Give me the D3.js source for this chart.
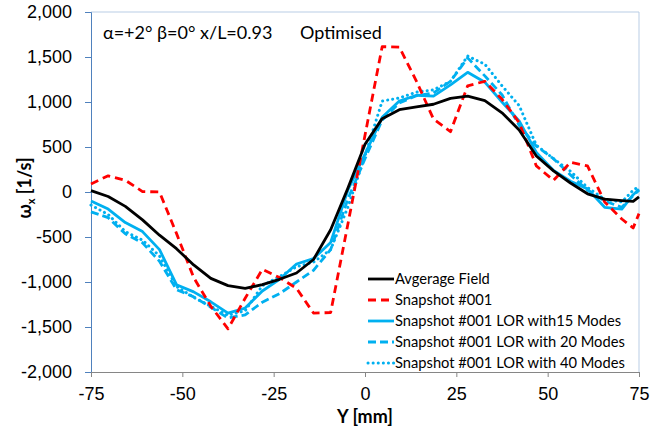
<!DOCTYPE html>
<html>
<head>
    <meta charset="UTF-8">
    <title>Vorticity profile</title>
    <script src="https://cdn.jsdelivr.net/npm/d3@7"></script>
    <style>
        body { margin: 0; background: #fff; }
        svg { font-family: Lato, "Open Sans", sans-serif; }
        .tick text { fill: #000; }
    </style>
</head>
<body>
<svg width="651" height="432"></svg>
<script>

    // spanwise positions Y [mm]
    var yPos = [-75, -70.3, -65.6, -60.9, -56.25, -51.6, -46.9, -42.2, -37.5, -32.8, -28.1,
        -23.4, -18.75, -14.1, -9.4, -4.7, 0, 4.7, 9.4, 14.1, 18.75, 23.4, 28.1, 32.8,
        37.5, 42.2, 46.9, 51.6, 56.25, 60.9, 65.6, 70.3, 73.4, 75];

    var avgField = [15, -50, -160, -310, -480, -630, -810, -960, -1040, -1070, -1030,
        -970, -900, -750, -420, 40, 530, 815, 915, 945, 975, 1040, 1065, 1015,
        880, 690, 400, 235, 100, -20, -80, -95, -105, -55];

    var snap001 = [90, 180, 130, 5, 0, -460, -950, -1270, -1520, -1180, -860,
        -950, -1070, -1345, -1340, -360, 630, 1615, 1610, 1230, 810, 670, 1180, 1230,
        1030, 770, 290, 130, 330, 290, -110, -300, -400, -240];

    var lor15 = [-100, -190, -340, -440, -640, -1030, -1110, -1220, -1345, -1290, -1100,
        -970, -800, -740, -560, 20, 420, 830, 1010, 1075, 1065, 1190, 1330, 1220,
        1000, 790, 440, 240, 120, 35, -170, -190, -30, 30];

    var lor20 = [-220, -285, -465, -565, -770, -1085, -1165, -1280, -1400, -1365, -1225,
        -1130, -1000, -870, -640, -80, 370, 800, 990, 1070, 1100, 1230, 1490, 1290,
        1080, 740, 510, 370, 190, 20, -100, -170, -40, 20];

    var lor40 = [-145, -250, -440, -535, -710, -1050, -1170, -1270, -1370, -1320, -1040,
        -940, -830, -780, -640, -170, 400, 1010, 1045, 1110, 1135, 1230, 1510, 1420,
        1180, 960, 520, 370, 230, 50, -80, -110, 20, 60];

    var seriesNames = ["Avgerage Field", "Snapshot #001", "Snapshot #001 LOR with15 Modes",
        "Snapshot #001 LOR with 20 Modes", "Snapshot #001 LOR with 40 Modes"];

    var xTicks = [-75, -50, -25, 0, 25, 50, 75];
    var yTicks = [-2000, -1500, -1000, -500, 0, 500, 1000, 1500, 2000];

    var svg = d3.select("svg");

    var plotLeft = 91, plotRight = 639, plotTop = 12, plotBottom = 372;

    var x = d3.scaleLinear().domain([-75, 75]).range([plotLeft, plotRight]);
    var y = d3.scaleLinear().domain([-2000, 2000]).range([plotBottom, plotTop]);

    // plot area border (top / right)
    svg.append("path")
        .attr("d", "M" + plotLeft + "," + plotTop + "H" + plotRight + "V" + plotBottom)
        .attr("fill", "none")
        .attr("stroke", "#b9cde5")
        .attr("stroke-width", 1);

    // excel style: plain hyphen, thousands comma
    var fmt = function(d) { return d3.format(",")(d).replace("\u2212", "-"); };

    var yAxis = svg.append("g")
        .attr("transform", "translate(" + plotLeft + ",0)")
        .call(d3.axisLeft(y).tickValues(yTicks).tickFormat(fmt).tickSize(6).tickPadding(13));
    yAxis.select(".domain").attr("stroke", "#4f81bd");
    yAxis.selectAll(".tick line").attr("stroke", "#4f81bd");
    yAxis.selectAll("text").attr("font-size", "18px");

    var xAxis = svg.append("g")
        .attr("transform", "translate(0," + plotBottom + ")")
        .call(d3.axisBottom(x).tickValues(xTicks).tickFormat(fmt).tickSize(5).tickPadding(10));
    xAxis.select(".domain").attr("stroke", "#868686");
    xAxis.selectAll(".tick line").attr("stroke", "#868686");
    xAxis.selectAll("text").attr("font-size", "18px");

    var styles = [
        { color: "#000000", dash: null, width: 2.8, cap: "butt" },
        { color: "#ff0000", dash: "8,5", width: 2.8, cap: "butt" },
        { color: "#00b0f0", dash: null, width: 2.8, cap: "butt" },
        { color: "#00b0f0", dash: "8,4", width: 2.8, cap: "butt" },
        { color: "#00b0f0", dash: "0.1,5", width: 3, cap: "round" }
    ];

    var allSeries = [avgField, snap001, lor15, lor20, lor40];

    var line = d3.line()
        .x(function(d, i) { return x(yPos[i]); })
        .y(function(d) { return y(d); });

    // draw back to front like the original
    [4, 3, 2, 1, 0].forEach(function(k) {
        svg.append("path")
            .datum(allSeries[k])
            .attr("d", line)
            .attr("fill", "none")
            .attr("stroke", styles[k].color)
            .attr("stroke-width", styles[k].width)
            .attr("stroke-dasharray", styles[k].dash)
            .attr("stroke-linecap", styles[k].cap)
            .attr("stroke-linejoin", "round");
    });

    // annotations
    svg.append("text")
        .attr("x", 103).attr("y", 39)
        .attr("font-size", "18px")
        .text("α=+2° β=0° x/L=0.93");

    svg.append("text")
        .attr("x", 300).attr("y", 39)
        .attr("font-size", "18px")
        .text("Optimised");

    // legend
    var legend = svg.append("g");
    seriesNames.forEach(function(name, i) {
        var cy = 279 + i * 21;
        legend.append("line")
            .attr("x1", 368).attr("x2", 394)
            .attr("y1", cy).attr("y2", cy)
            .attr("stroke", styles[i].color)
            .attr("stroke-width", styles[i].width)
            .attr("stroke-dasharray", styles[i].dash)
            .attr("stroke-linecap", styles[i].cap);
        legend.append("text")
            .attr("x", 395).attr("y", cy)
            .attr("dy", "0.35em")
            .attr("font-size", "14.7px")
            .text(name);
    });

    // axis titles
    svg.append("text")
        .attr("x", 365).attr("y", 423)
        .attr("text-anchor", "middle")
        .attr("font-weight", "bold")
        .attr("font-size", "18px")
        .text("Y [mm]");

    var yTitle = svg.append("text")
        .attr("transform", "translate(31,188) rotate(-90)")
        .attr("text-anchor", "middle")
        .attr("font-weight", "bold")
        .attr("font-size", "18px");
    yTitle.append("tspan").text("ω");
    yTitle.append("tspan").attr("dy", 4).attr("font-size", "11px").text("x");
    yTitle.append("tspan").attr("dy", -4).text(" [1/s]");

</script>
</body>
</html>
